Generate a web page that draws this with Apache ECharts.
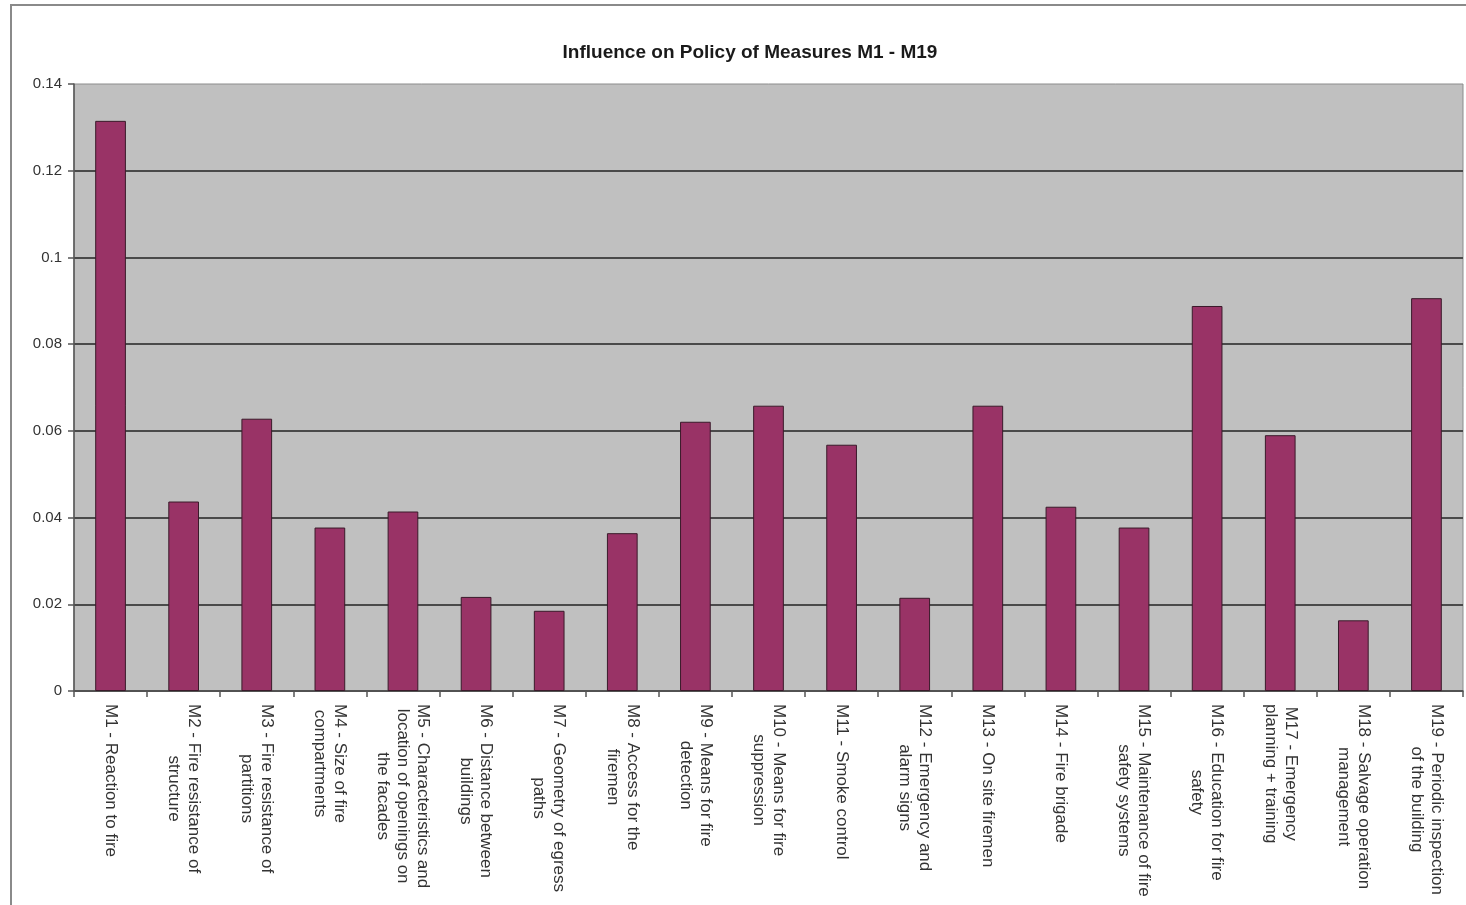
<!DOCTYPE html>
<html>
<head>
<meta charset="utf-8">
<title>Influence on Policy of Measures M1 - M19</title>
<script src="https://cdn.jsdelivr.net/npm/echarts@6/dist/echarts.min.js"></script>
<style>
  html, body { margin: 0; padding: 0; background: #ffffff; }
  #chart { width: 1466px; height: 905px; }
</style>
</head>
<body>
<div id="chart"></div>
<script>
// Measures (line breaks as they wrap under the axis)
const categories = [
  'M1 - Reaction to fire',
  'M2 - Fire resistance of\nstructure',
  'M3 - Fire resistance of\npartitions',
  'M4 - Size of fire\ncompartments',
  'M5 - Characteristics and\nlocation of openings on\nthe facades',
  'M6 - Distance between\nbuildings',
  'M7 - Geometry of egress\npaths',
  'M8 - Access for the\nfiremen',
  'M9 - Means for fire\ndetection',
  'M10 - Means for fire\nsuppression',
  'M11 - Smoke control',
  'M12 - Emergency and\nalarm signs',
  'M13 - On site firemen',
  'M14 - Fire brigade',
  'M15 - Maintenance of fire\nsafety systems',
  'M16 - Education for fire\nsafety',
  'M17 - Emergency\nplanning + training',
  'M18 - Salvage operation\nmanagement',
  'M19 - Periodic inspection\nof the building'
];

// Influence on policy for each measure
const influence = [
  0.1315, 0.0437, 0.0628, 0.0377, 0.0414, 0.0217, 0.0185, 0.0364, 0.0621, 0.0658,
  0.0568, 0.0215, 0.0658, 0.0425, 0.0377, 0.0888, 0.0590, 0.0163, 0.0906
];

// Value axis range
const yMin = 0;
const yMax = 0.14;
const yStep = 0.02;

const chartTitle = 'Influence on Policy of Measures M1 - M19';

const font = '"Liberation Sans", Arial, sans-serif';
const chart = echarts.init(document.getElementById('chart'), null, { renderer: 'canvas' });

chart.setOption({
  backgroundColor: '#ffffff',
  animation: false,
  title: {
    text: chartTitle,
    left: 745,
    top: 38,
    textAlign: 'center',
    textStyle: { fontFamily: font, fontSize: 19, fontWeight: 'bold', color: '#1a1a1a' }
  },
  graphic: [{
    type: 'rect',
    shape: { x: 11, y: 5, width: 1600, height: 1000 },
    style: { fill: 'none', stroke: '#8a8a8a', lineWidth: 2 },
    silent: true,
    z: -1
  }],
  grid: {
    left: 74,
    right: 3,
    top: 84,
    height: 607,
    show: true,
    backgroundColor: '#c0c0c0',
    borderColor: '#8c8c8c',
    borderWidth: 1
  },
  xAxis: {
    type: 'category',
    data: categories,
    axisLine: { show: true, lineStyle: { color: '#555555', width: 1.5 } },
    axisTick: { show: true, length: 6, lineStyle: { color: '#555555', width: 1.5 } },
    axisLabel: {
      interval: 0,
      rotate: -90,
      margin: 13,
      formatter: function (v) {
        return v.split('\n').map(function (s) { return '{c|' + s + '}'; }).join('\n');
      },
      rich: {
        c: { align: 'center', fontFamily: font, fontSize: 17, lineHeight: 20, color: '#333333' }
      }
    },
    splitLine: { show: false }
  },
  yAxis: {
    type: 'value',
    min: yMin,
    max: yMax,
    interval: yStep,
    axisLine: { show: true, lineStyle: { color: '#555555', width: 1.5 } },
    axisTick: { show: true, length: 6, lineStyle: { color: '#555555', width: 1.5 } },
    axisLabel: { margin: 12, fontFamily: font, fontSize: 15, color: '#333333' },
    splitLine: {
      show: true,
      showMaxLine: false,
      lineStyle: { color: '#4a4a4a', width: 2 }
    }
  },
  series: [{
    type: 'bar',
    data: influence,
    barWidth: '42%',
    itemStyle: { color: '#993366', borderColor: '#3a1a2a', borderWidth: 1 }
  }]
});
</script>
</body>
</html>
